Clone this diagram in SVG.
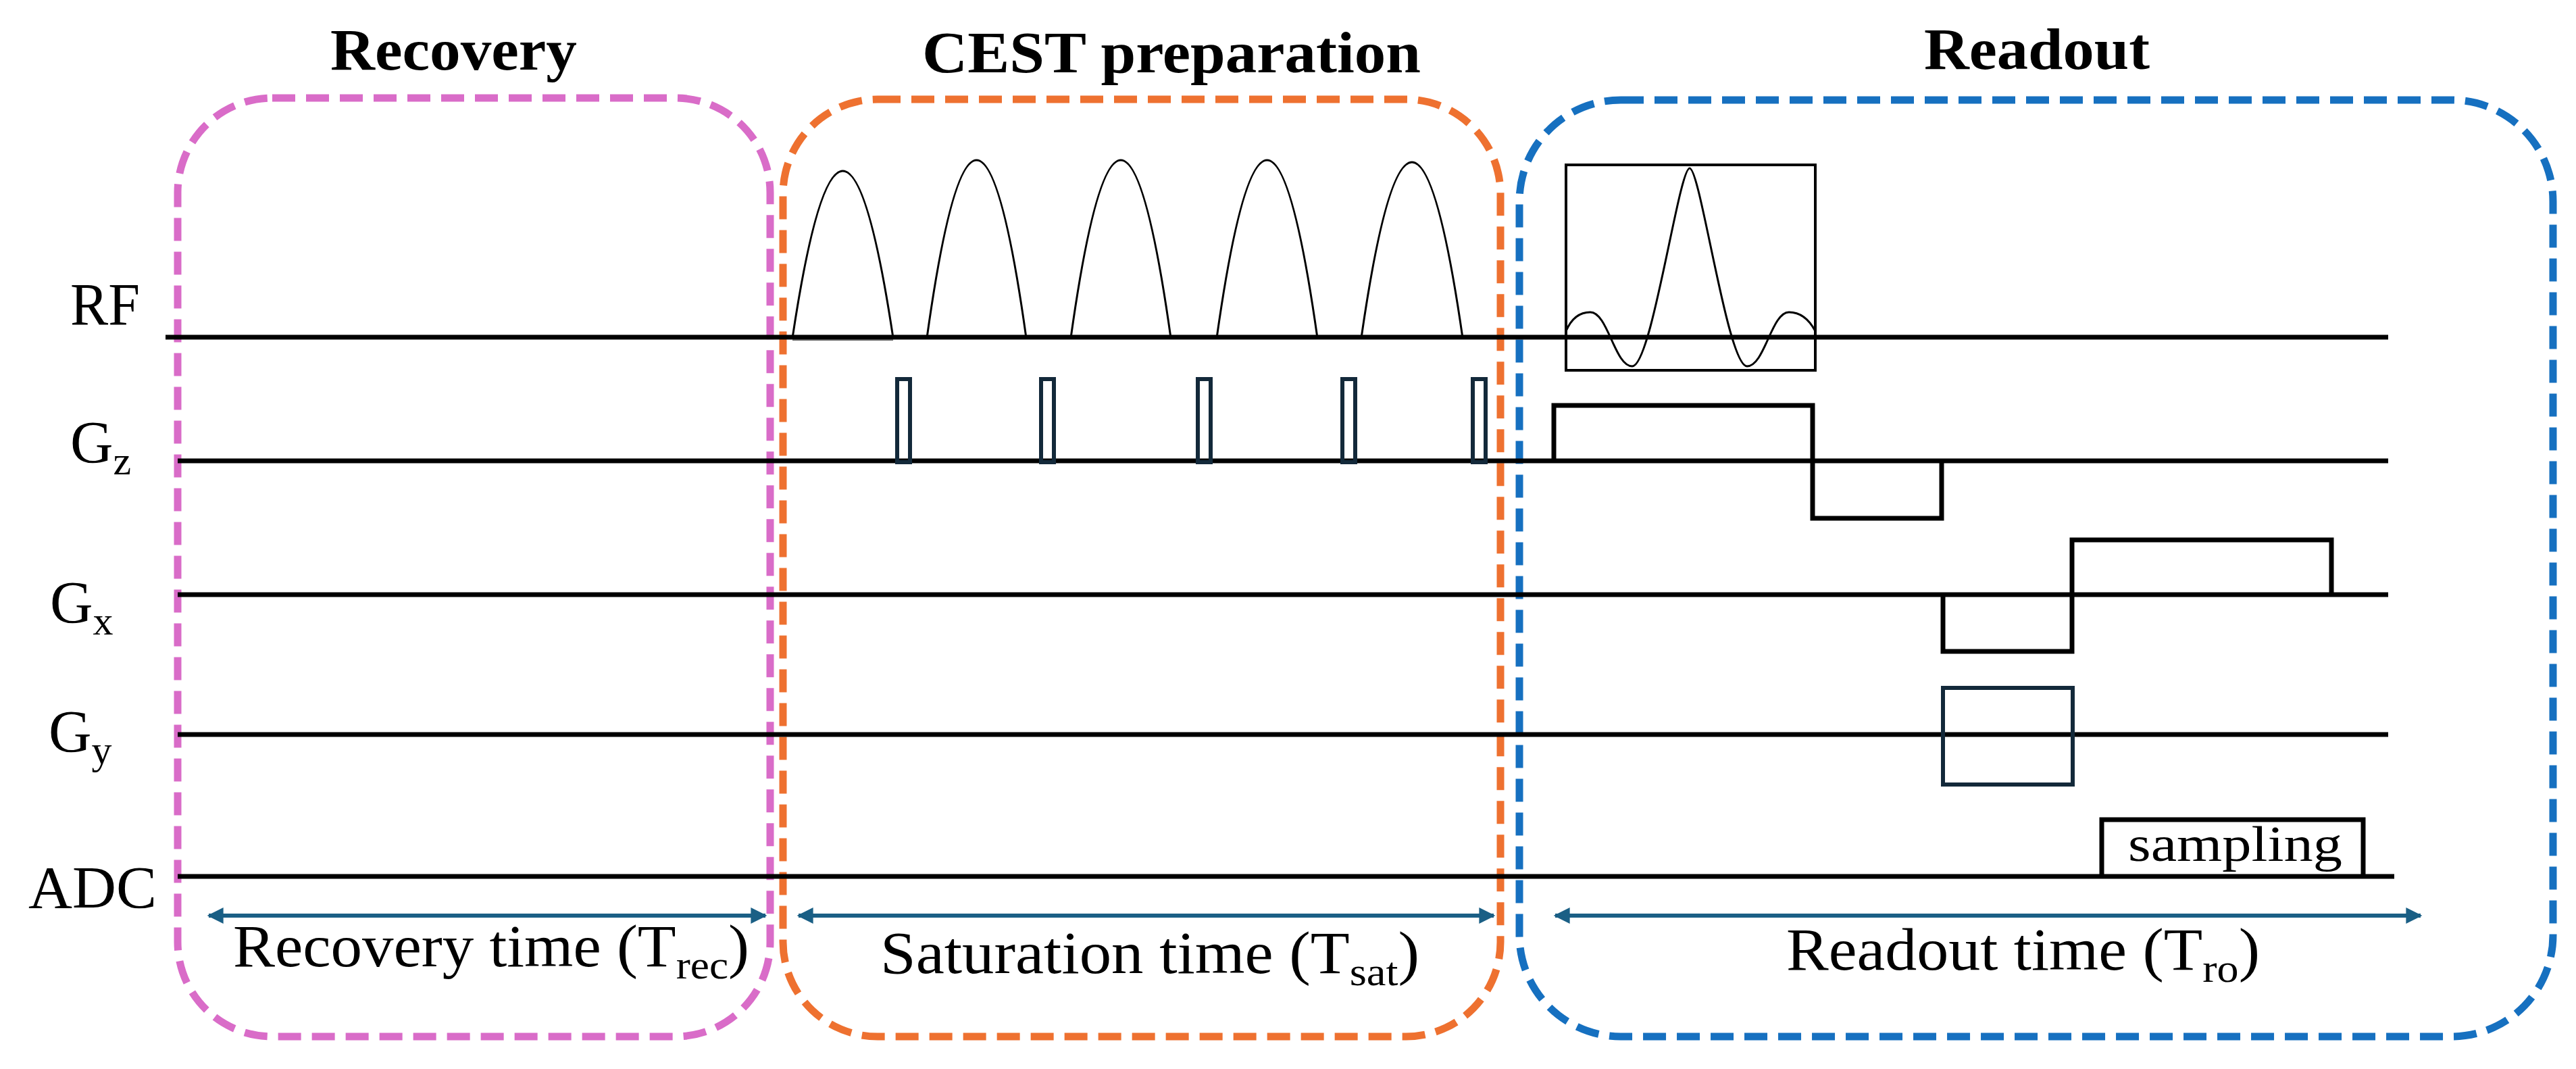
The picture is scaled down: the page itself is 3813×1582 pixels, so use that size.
<svg xmlns="http://www.w3.org/2000/svg" width="3813" height="1582" viewBox="0 0 3813 1582">
<style>
text{font-family:"Liberation Serif","Times New Roman",serif;fill:#000}
.title{font-size:86px;font-weight:bold;text-anchor:start}
.lab{font-size:88px}
.sub{font-size:60px}
.axis{stroke:#000;stroke-width:7;fill:none}
.grad{stroke:#000;stroke-width:7;fill:none}
.navy{stroke:#13293a;stroke-width:6;fill:none}
.pulse{stroke:#000;stroke-width:3;fill:none}
.dim{stroke:#1a5f85;stroke-width:6;fill:none;marker-start:url(#ah);marker-end:url(#ah)}
.box{fill:none;stroke-width:11;stroke-dasharray:34 16}
</style>
<defs>
<marker id="ah" viewBox="0 0 10 10" refX="9" refY="5" markerWidth="5" markerHeight="4" orient="auto-start-reverse" markerUnits="strokeWidth">
<path d="M0,0 L10,5 L0,10 Z" fill="#1a5f85"/>
</marker>
</defs>
<rect width="3813" height="1582" fill="#fff"/>

<g id="recovery">
<rect class="box" x="263" y="145" width="877" height="1389" rx="140" stroke="#d96cc8"/>
<text class="title" x="489" y="103" textLength="365" lengthAdjust="spacingAndGlyphs">Recovery</text>
</g>
<g id="cest">
<rect class="box" x="1159" y="147" width="1062" height="1387" rx="140" stroke="#ee7130"/>
<text class="title" x="1365" y="107" textLength="738" lengthAdjust="spacingAndGlyphs">CEST  preparation</text>
</g>
<g id="readout">
<rect class="box" x="2249" y="148" width="1530" height="1386" rx="150" stroke="#1670c0"/>
<text class="title" x="2848" y="102" textLength="334" lengthAdjust="spacingAndGlyphs">Readout</text>
</g>

<g id="axes">
<line class="axis" x1="245" y1="499" x2="3535" y2="499"/>
<line class="axis" x1="263" y1="682" x2="3535" y2="682"/>
<line class="axis" x1="263" y1="880" x2="3535" y2="880"/>
<line class="axis" x1="263" y1="1087" x2="3535" y2="1087"/>
<line class="axis" x1="263" y1="1297" x2="3544" y2="1297"/>
<text class="lab" x="104" y="480" textLength="103" lengthAdjust="spacingAndGlyphs">RF</text>
<text class="lab" x="104" y="684">G<tspan class="sub" dy="18">z</tspan></text>
<text class="lab" x="74" y="921">G<tspan class="sub" dy="18">x</tspan></text>
<text class="lab" x="72" y="1112">G<tspan class="sub" dy="18">y</tspan></text>
<text class="lab" x="42" y="1343" textLength="190" lengthAdjust="spacingAndGlyphs">ADC</text>
</g>

<g id="cest-pulses">
<path class="pulse" d="M1173,500 Q1247.5,6 1322,500"/>
<path class="pulse" d="M1372,500 Q1445.5,-26 1519,500"/>
<path class="pulse" d="M1585,500 Q1659,-26 1733,500"/>
<path class="pulse" d="M1801,500 Q1875.5,-26 1950,500"/>
<path class="pulse" d="M2015,500 Q2090,-20 2165,500"/>
<line x1="1173" y1="503" x2="1322" y2="503" stroke="#555" stroke-width="2"/>
<rect class="navy" x="1328" y="561" width="19" height="123"/>
<rect class="navy" x="1541" y="561" width="19" height="123"/>
<rect class="navy" x="1773" y="561" width="19" height="123"/>
<rect class="navy" x="1987" y="561" width="19" height="123"/>
<rect class="navy" x="2180" y="561" width="19" height="123"/>
</g>

<g id="readout-seq">
<rect x="2318" y="244" width="369" height="304" fill="none" stroke="#000" stroke-width="4"/>
<path class="pulse" d="M2318,490 Q2330,462 2354,462 C2380,462 2390,542 2416,542 C2445,542 2485,249 2501,249 C2517,249 2557,542 2586,542 C2612,542 2622,462 2648,462 Q2672,462 2687,490"/>
<path class="grad" d="M2300,682 V600 H2683 V767 H2874 V682"/>
<path class="grad" d="M2876,880 V964 H3067 V799 H3451 V880"/>
<rect class="navy" x="2876" y="1018" width="192" height="143"/>
<path class="grad" d="M3111,1297 V1213 H3498 V1297" stroke-width="6"/>
<text x="3150" y="1274" font-size="74" textLength="317" lengthAdjust="spacingAndGlyphs">sampling</text>
</g>

<g id="connectors">
<line class="dim" x1="309" y1="1355" x2="1133" y2="1355"/>
<line class="dim" x1="1182" y1="1355" x2="2211" y2="1355"/>
<line class="dim" x1="2302" y1="1355" x2="3583" y2="1355"/>
</g>

<g id="time-labels">
<text class="lab" x="345" y="1430" textLength="764" lengthAdjust="spacingAndGlyphs">Recovery time (T<tspan class="sub" dy="18">rec</tspan><tspan dy="-18">)</tspan></text>
<text class="lab" x="1303" y="1440" textLength="798" lengthAdjust="spacingAndGlyphs">Saturation time (T<tspan class="sub" dy="18">sat</tspan><tspan dy="-18">)</tspan></text>
<text class="lab" x="2644" y="1435" textLength="701" lengthAdjust="spacingAndGlyphs">Readout time (T<tspan class="sub" dy="18">ro</tspan><tspan dy="-18">)</tspan></text>
</g>
</svg>
